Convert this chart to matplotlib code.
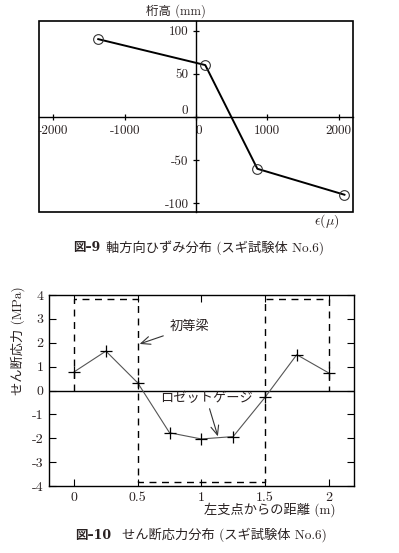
import matplotlib.pyplot as plt
from matplotlib.patches import Rectangle

plt.rcParams['font.family'] = ['cmr10', 'Noto Sans CJK JP', 'DejaVu Sans']
plt.rcParams['mathtext.fontset'] = 'cm'
plt.rcParams['axes.unicode_minus'] = False
plt.rcParams['axes.formatter.use_mathtext'] = True

# 図-9 軸方向ひずみ分布
ひずみ = [-1370, 130, 860, 2080]
桁高 = [90, 60, -60, -90]
xticks9 = [-2000, -1000, 0, 1000, 2000]
yticks9 = [-100, -50, 0, 50, 100]

# 図-10 せん断応力分布
距離 = [0, 0.25, 0.5, 0.75, 1.0, 1.25, 1.5, 1.75, 2.0]
応力 = [0.78, 1.65, 0.32, -1.77, -2.03, -1.93, -0.29, 1.5, 0.74]
xticks10 = [0, 0.5, 1, 1.5, 2]
xlabels10 = ['0', '0.5', '1', '1.5', '2']
yticks10 = [-4, -3, -2, -1, 0, 1, 2, 3, 4]
# 初等梁 の枠
梁x = [0, 0, 0.5, 0.5, 1.5, 1.5, 2, 2]
梁y = [0, 3.82, 3.82, -3.82, -3.82, 3.82, 3.82, 0]

W, H = 399, 553
fig = plt.figure(figsize=(W / 100, H / 100), dpi=100)
txt = '#2a2222'
bold_fam = ['DejaVu Serif', 'Noto Sans CJK JP']

# ---- 上のグラフ ----
ax = fig.add_axes([39 / W, 1 - 212 / H, 314 / W, 191 / H])
ax.plot(ひずみ, 桁高, color='black', lw=1.4, marker='o', ms=7,
        mfc='none', mec='#333333', mew=0.8)
ax.set_xlim(-2200, 2200)
ax.set_ylim(-110, 111)
for s in ['top', 'right']:
    ax.spines[s].set_visible(False)
ax.spines['left'].set_position(('data', 0))
ax.spines['bottom'].set_position(('data', 0))
ax.spines['left'].set_linewidth(1.0)
ax.spines['bottom'].set_linewidth(1.0)
ax.add_patch(Rectangle((0, 0), 1, 1, transform=ax.transAxes, fill=False,
                       lw=1.2, ec='black', clip_on=False))
ax.set_xticks(xticks9)
ax.set_yticks(yticks9)
ax.set_xticklabels([str(v) for v in xticks9])
ax.set_yticklabels([str(v) for v in yticks9])
ax.tick_params(direction='inout', length=5, width=0.9, labelsize=9.5,
               labelcolor=txt, pad=3)
ax.get_yticklabels()[2].set_va('bottom')
ax.get_xticklabels()[2].set_ha('left')
ax.text(0.435, 1.05, '桁高 (mm)', transform=ax.transAxes, ha='center',
        va='center', fontsize=9, color=txt)
ax.text(0.915, -0.05, r'$\epsilon(\mu)$', transform=ax.transAxes,
        ha='center', va='center', fontsize=10, color=txt)

fig.text(73 / W, 1 - 248 / H, '図–9', ha='left', va='center', fontsize=9,
         fontweight='bold', family=bold_fam, color=txt)
fig.text(106 / W, 1 - 248 / H, '軸方向ひずみ分布 (スギ試験体 No.6)',
         ha='left', va='center', fontsize=9.5, color=txt)

# ---- 下のグラフ ----
ax2 = fig.add_axes([49.3 / W, 1 - 486 / H, 304.7 / W, 191 / H])
ax2.axhline(0, color='black', lw=1.0)
ax2.plot(梁x, 梁y, color='black', lw=1.0, ls=(0, (5, 4)))
ax2.plot(距離, 応力, color='#555555', lw=0.8, marker='+', ms=9,
         mec='black', mew=0.9)
ax2.set_xlim(-0.195, 2.2)
ax2.set_ylim(-4, 4)
ax2.set_xticks(xticks10)
ax2.set_xticklabels(xlabels10)
ax2.set_yticks(yticks10)
ax2.set_yticklabels([str(v) for v in yticks10])
ax2.tick_params(direction='in', length=5, width=0.8, labelsize=10,
                labelcolor=txt, top=True, right=True, pad=4)
for s in ax2.spines.values():
    s.set_linewidth(1.0)

ax2.annotate('初等梁', xy=(0.515, 1.95), xytext=(0.91, 2.67),
             ha='center', va='center', fontsize=9.5, color=txt,
             arrowprops=dict(arrowstyle='->,head_length=0.7,head_width=0.3',
                             color='#333333', lw=0.8, shrinkA=3, shrinkB=0))
ax2.annotate('ロゼットゲージ', xy=(1.13, -1.92), xytext=(1.04, -0.33),
             ha='center', va='center', fontsize=9.5, color=txt,
             arrowprops=dict(arrowstyle='->,head_length=0.7,head_width=0.3',
                             color='#333333', lw=0.8, shrinkA=1, shrinkB=0))

fig.text(18 / W, 1 - 341 / H, 'せん断応力 (MPa)', rotation=90, ha='center',
         va='center', fontsize=9.5, color=txt)
fig.text(270 / W, 1 - 510 / H, '左支点からの距離 (m)', ha='center',
         va='center', fontsize=9.5, color=txt)

fig.text(75 / W, 1 - 535 / H, '図–10', ha='left', va='center', fontsize=9,
         fontweight='bold', family=bold_fam, color=txt)
fig.text(122 / W, 1 - 535 / H, 'せん断応力分布 (スギ試験体 No.6)',
         ha='left', va='center', fontsize=9.5, color=txt)

fig.savefig('out.png', dpi=100)
